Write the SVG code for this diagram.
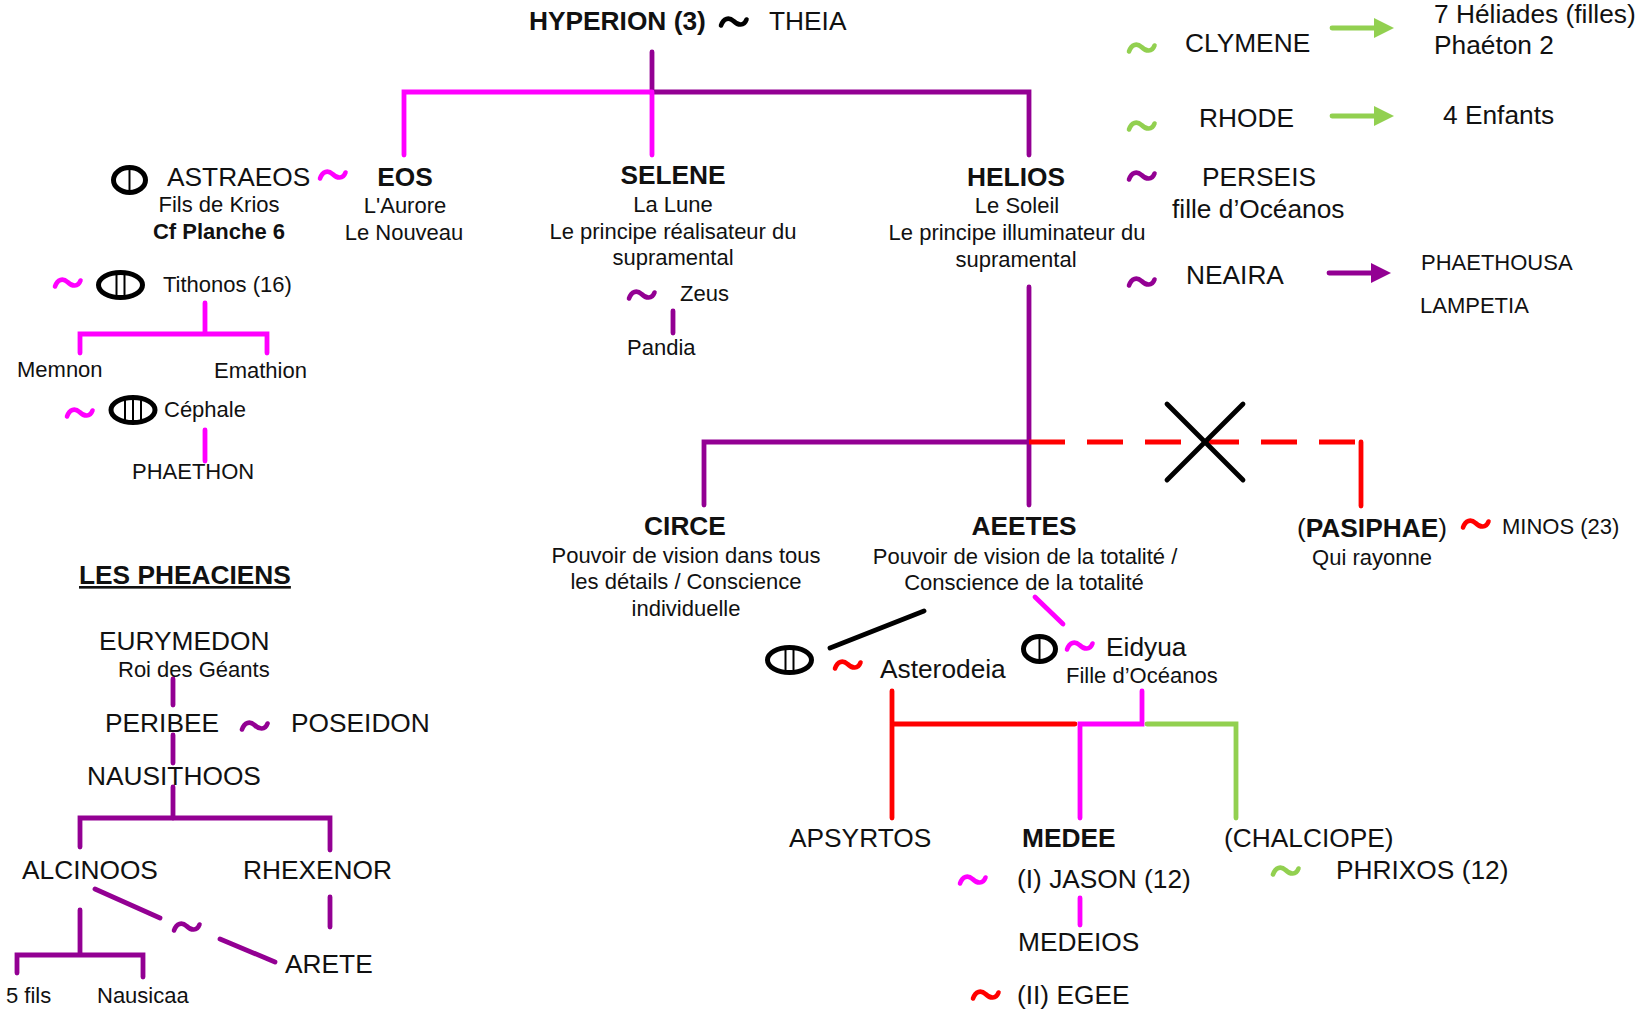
<svg xmlns="http://www.w3.org/2000/svg" xmlns:xlink="http://www.w3.org/1999/xlink" width="1645" height="1013" viewBox="0 0 1645 1013">
<style>
text{font-family:"Liberation Sans",Arial,sans-serif;fill:#111}
.m{font-size:26.3px}
.s{font-size:22px}
.b{font-weight:bold}
.c{text-anchor:middle}
.u{text-decoration:underline}
#connectors path,#connectors line{fill:none;stroke-width:4.8;stroke-linecap:round;stroke-linejoin:miter}
.mg{stroke:#ff00ff}.pu{stroke:#930093}.re{stroke:#ff0000}.gr{stroke:#92d050}.bk{stroke:#000}
</style>
<defs>
<path id="t" d="M2,9.5 C4.5,2 10,1 14.5,5 C19,9.5 25,10.5 27.5,3.5" fill="none" stroke-width="4.6" stroke-linecap="round"/>
<g id="o1" fill="none" stroke="#000"><ellipse rx="16" ry="12.5" stroke-width="5"/><line x1="0" x2="0" y1="-12" y2="12" stroke-width="2"/></g>
<g id="o2" fill="none" stroke="#000"><ellipse rx="22" ry="12.5" stroke-width="5"/><line x1="-4" x2="-4" y1="-12" y2="12" stroke-width="2"/><line x1="4" x2="4" y1="-12" y2="12" stroke-width="2"/></g>
<g id="o3" fill="none" stroke="#000"><ellipse rx="22" ry="12.5" stroke-width="5"/><line x1="-8" x2="-8" y1="-12" y2="12" stroke-width="2"/><line x1="0" x2="0" y1="-12" y2="12" stroke-width="2"/><line x1="8" x2="8" y1="-12" y2="12" stroke-width="2"/></g>
<marker id="ag" markerUnits="userSpaceOnUse" markerWidth="20" markerHeight="20" refX="1" refY="10" orient="auto"><path d="M0,0 L20,10 L0,20Z" fill="#92d050"/></marker>
<marker id="ap" markerUnits="userSpaceOnUse" markerWidth="20" markerHeight="20" refX="1" refY="10" orient="auto"><path d="M0,0 L20,10 L0,20Z" fill="#930093"/></marker>
</defs>
<rect width="1645" height="1013" fill="#fff"/>

<g id="connectors">
<path class="pu" d="M652,52V92H1029V155"/>
<path class="mg" d="M652,92V155M652,92H404V155"/>
<path class="pu" d="M1029,287V505M1029,442H704V505"/>
<path class="re" style="stroke-dasharray:36 22;stroke-linecap:butt" d="M1029,442H1358"/>
<path class="re" d="M1361,442V506"/>
<line class="bk" x1="1167" y1="404" x2="1243" y2="480"/>
<line class="bk" x1="1167" y1="480" x2="1243" y2="404"/>
<path class="mg" d="M205,303V334M80,353V334H267V353"/>
<path class="mg" d="M205,430V461"/>
<path class="pu" d="M673,311V333"/>
<line class="bk" x1="830" y1="648" x2="924" y2="611"/>
<line class="mg" x1="1035" y1="597" x2="1063" y2="624"/>
<path class="re" d="M892,691V818M892,724H1075"/>
<path class="mg" d="M1080,818V724H1142V691"/>
<path class="gr" d="M1147,724H1236V818"/>
<path class="mg" d="M1080,898V925"/>
<path class="pu" d="M173,679V705M173,735V763M173,787V818"/>
<path class="pu" d="M80,847V818H330V850"/>
<path class="pu" d="M330,897V927"/>
<line class="pu" x1="95" y1="889" x2="160" y2="918"/>
<line class="pu" x1="220" y1="939" x2="275" y2="962"/>
<path class="pu" d="M80,910V955M17,973V955H143V977"/>
<line class="gr" x1="1332" y1="28" x2="1375" y2="28" marker-end="url(#ag)"/>
<line class="gr" x1="1332" y1="116" x2="1375" y2="116" marker-end="url(#ag)"/>
<line class="pu" x1="1329" y1="273" x2="1372" y2="273" marker-end="url(#ap)"/>
</g>

<g id="hyperion"><text class="m b" x="529" y="30">HYPERION (3)</text><use href="#t" x="719" y="16" stroke="#000"/><text class="m" x="769" y="30">THEIA</text></g>
<g id="astraeos"><use href="#o1" x="129.5" y="180"/><text class="m" x="167" y="186">ASTRAEOS</text><text class="s c" x="219" y="212">Fils de Krios</text><text class="s b c" x="219" y="239">Cf Planche 6</text><use href="#t" x="318" y="169" stroke="#ff00ff"/></g>
<g id="eos"><text class="m b c" x="405" y="186">EOS</text><text class="s c" x="405" y="213">L'Aurore</text><text class="s c" x="404" y="240">Le Nouveau</text></g>
<g id="tithonos"><use href="#t" x="53" y="277" stroke="#ff00ff"/><use href="#o2" x="120.5" y="285"/><text class="s" x="163" y="292">Tithonos (16)</text></g>
<g id="memnon"><text class="s" x="17" y="377">Memnon</text></g>
<g id="emathion"><text class="s" x="214" y="378">Emathion</text></g>
<g id="cephale"><use href="#t" x="65" y="407" stroke="#ff00ff"/><use href="#o3" x="133" y="410"/><text class="s" x="164" y="417">Céphale</text></g>
<g id="phaethon"><text class="s" x="132" y="479">PHAETHON</text></g>
<g id="selene"><text class="m b c" x="673" y="184">SELENE</text><text class="s c" x="673" y="212">La Lune</text><text class="s c" x="673" y="239">Le principe réalisateur du</text><text class="s c" x="673" y="265">supramental</text></g>
<g id="zeus"><use href="#t" x="627" y="289" stroke="#930093"/><text class="s" x="680" y="301">Zeus</text></g>
<g id="pandia"><text class="s" x="627" y="355">Pandia</text></g>
<g id="helios"><text class="m b c" x="1016" y="186">HELIOS</text><text class="s c" x="1017" y="213">Le Soleil</text><text class="s c" x="1017" y="240">Le principe illuminateur du</text><text class="s c" x="1016" y="267">supramental</text></g>
<g id="clymene"><use href="#t" x="1127" y="42" stroke="#92d050"/><text class="m" x="1185" y="52">CLYMENE</text></g>
<g id="heliades"><text class="m" x="1434" y="23">7 Héliades (filles)</text><text class="m" x="1434" y="54">Phaéton 2</text></g>
<g id="rhode"><use href="#t" x="1127" y="120" stroke="#92d050"/><text class="m" x="1199" y="127">RHODE</text></g>
<g id="enfants"><text class="m" x="1443" y="124">4 Enfants</text></g>
<g id="perseis"><use href="#t" x="1127" y="170" stroke="#930093"/><text class="m" x="1202" y="186">PERSEIS</text><text class="m" x="1172" y="218">fille d’Océanos</text></g>
<g id="neaira"><use href="#t" x="1127" y="276" stroke="#930093"/><text class="m" x="1186" y="284">NEAIRA</text></g>
<g id="phaethousa"><text class="s" x="1421" y="270">PHAETHOUSA</text></g>
<g id="lampetia"><text class="s" x="1420" y="313">LAMPETIA</text></g>
<g id="circe"><text class="m b c" x="685" y="535">CIRCE</text><text class="s c" x="686" y="563">Pouvoir de vision dans tous</text><text class="s c" x="686" y="589">les détails / Conscience</text><text class="s c" x="686" y="616">individuelle</text></g>
<g id="aeetes"><text class="m b c" x="1024" y="535">AEETES</text><text class="s c" x="1025" y="564">Pouvoir de vision de la totalité /</text><text class="s c" x="1024" y="590">Conscience de la totalité</text></g>
<g id="pasiphae"><text class="m c" x="1372" y="537">(<tspan class="b">PASIPHAE</tspan>)</text><text class="s c" x="1372" y="565">Qui rayonne</text></g>
<g id="minos"><use href="#t" x="1461" y="518" stroke="#ff0000"/><text class="s" x="1502" y="534">MINOS (23)</text></g>
<g id="asterodeia"><use href="#o2" x="789.5" y="660"/><use href="#t" x="833" y="659" stroke="#ff0000"/><text class="m" x="880" y="678">Asterodeia</text></g>
<g id="eidyua"><use href="#o1" x="1039.5" y="649"/><use href="#t" x="1065" y="640" stroke="#ff00ff"/><text class="m" x="1106" y="656">Eidyua</text><text class="s" x="1066" y="683">Fille d’Océanos</text></g>
<g id="apsyrtos"><text class="m" x="789" y="847">APSYRTOS</text></g>
<g id="medee"><text class="m b" x="1022" y="847">MEDEE</text></g>
<g id="chalciope"><text class="m" x="1224" y="847">(CHALCIOPE)</text></g>
<g id="phrixos"><use href="#t" x="1271" y="865" stroke="#92d050"/><text class="m" x="1336" y="879">PHRIXOS (12)</text></g>
<g id="jason"><use href="#t" x="958" y="874" stroke="#ff00ff"/><text class="m" x="1017" y="888">(I) JASON (12)</text></g>
<g id="medeios"><text class="m" x="1018" y="951">MEDEIOS</text></g>
<g id="egee"><use href="#t" x="971" y="989" stroke="#ff0000"/><text class="m" x="1017" y="1004">(II) EGEE</text></g>
<g id="pheaciens"><text class="m b u" x="79" y="584">LES PHEACIENS</text></g>
<g id="eurymedon"><text class="m" x="99" y="650">EURYMEDON</text><text class="s" x="118" y="677">Roi des Géants</text></g>
<g id="peribee"><text class="m" x="105" y="732">PERIBEE</text><use href="#t" x="240" y="720" stroke="#930093"/></g>
<g id="poseidon"><text class="m" x="291" y="732">POSEIDON</text></g>
<g id="nausithoos"><text class="m" x="87" y="785">NAUSITHOOS</text></g>
<g id="alcinoos"><text class="m" x="22" y="879">ALCINOOS</text></g>
<g id="rhexenor"><text class="m" x="243" y="879">RHEXENOR</text></g>
<g id="arete"><use href="#t" x="172" y="921" stroke="#930093"/><text class="m" x="285" y="973">ARETE</text></g>
<g id="fils"><text class="s" x="6" y="1003">5 fils</text></g>
<g id="nausicaa"><text class="s" x="97" y="1003">Nausicaa</text></g>
</svg>
